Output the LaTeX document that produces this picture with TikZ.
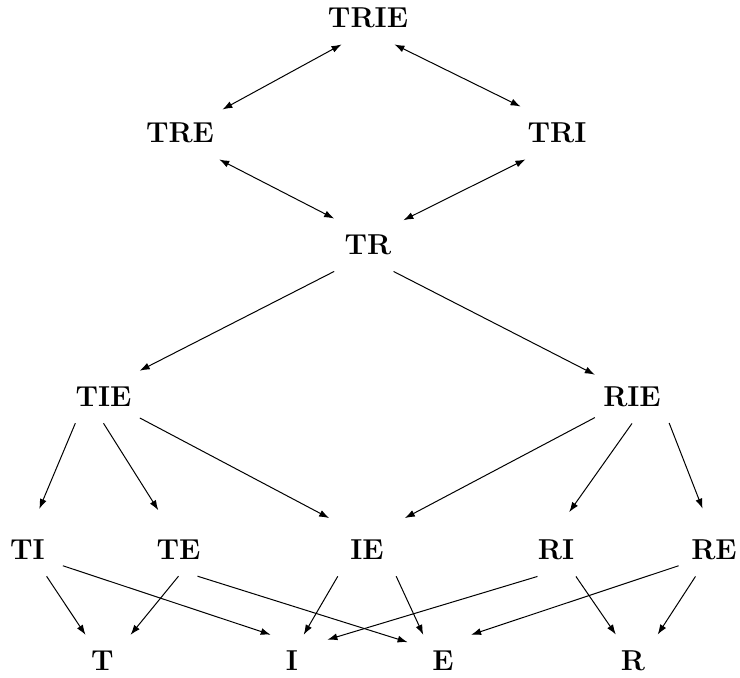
\documentclass[tikz,border=0pt]{standalone}
\usepackage{tikz}
\usetikzlibrary{arrows.meta}

\begin{document}
\begin{tikzpicture}[x=0.5pt,y=-0.5pt,>={Latex[length=5pt,width=3.5pt]},
  elem/.style={font=\Large\bfseries,inner xsep=4pt,inner ysep=8pt,minimum width=35pt},
  down/.style={->,line width=0.5pt},
  both/.style={<->,line width=0.5pt}]
\useasboundingbox (0,0) rectangle (740,678);
%the sets, row by row
\node[elem] (trie) at (368,18) {TRIE};
\node[elem] (tre) at (180,133) {TRE};
\node[elem] (tri) at (557,133) {TRI};
\node[elem] (tr) at (368,245) {TR};
\node[elem] (tie) at (103.5,397) {TIE};
\node[elem] (rie) at (632,397) {RIE};
\node[elem] (ti) at (27.5,550) {TI};
\node[elem] (te) at (178.5,550) {TE};
\node[elem] (ie) at (367,550) {IE};
\node[elem] (ri) at (556,550) {RI};
\node[elem] (re) at (714,550) {RE};
\node[elem] (t) at (102.5,661) {T};
\node[elem] (i) at (292,661) {I};
\node[elem] (e) at (443,661) {E};
\node[elem] (r) at (633,661) {R};
%top diamond, both ways
\draw[both] (trie.225) -- (tre.29);
\draw[both] (trie.315) -- (tri.144);
\draw[both] (tre.326) -- (tr.142);
\draw[both] (tri.220) -- (tr.35);
%from TR down
\draw[down] (tr.218) -- (tie.36);
\draw[down] (tr.314) -- (rie.149);
%to the pairs
\draw[down,shorten >=8pt] (tie.223) -- (ti.78);
\draw[down,shorten >=8pt] (tie.south) -- (te.114);
\draw[down,shorten >=6pt] (tie.330) -- (ie.136);
\draw[down,shorten >=6pt] (rie.209) -- (ie.44);
\draw[down,shorten >=7pt] (rie.south) -- (ri.79);
\draw[down,shorten >=8pt] (rie.325) -- (re.102);
%to the single letters
\draw[down] (ti.306) -- (t.123);
\draw[down] (ti.336) -- (i.129);
\draw[down] (te.south) -- (t.43);
\draw[down] (te.306) -- (e.152.5);
\draw[down] (ie.222) -- (i.66.6);
\draw[down] (ie.318) -- (e.127);
\draw[down] (ri.235) -- (i.31);
\draw[down] (ri.307) -- (r.123);
\draw[down] (re.204) -- (e.43);
\draw[down] (re.235) -- (r.47.6);
\end{tikzpicture}
\end{document}
